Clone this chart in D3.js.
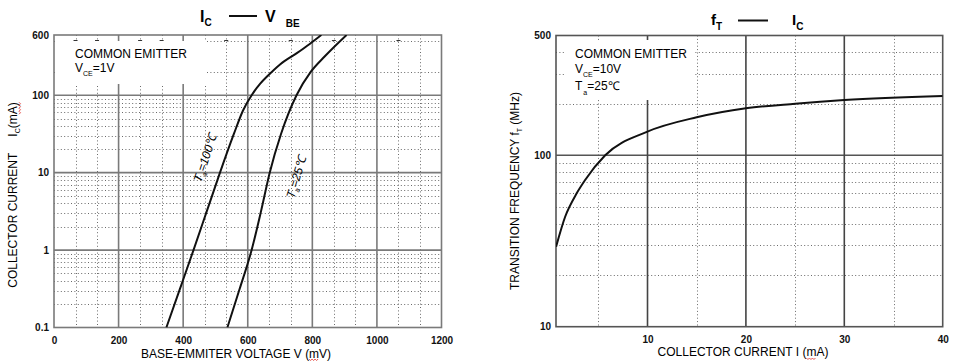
<!DOCTYPE html>
<html>
<head>
<meta charset="utf-8">
<script src="https://cdn.jsdelivr.net/npm/d3@7"></script>
<style>
  body { margin: 0; background: #fff; }
  svg { font-family: "Liberation Sans", Arial, sans-serif; }
</style>
</head>
<body>
<div id="chart"></div>
<script>
// ---- left chart: IC vs VBE ----
const vbeTicks   = [0, 200, 400, 600, 800, 1000, 1200];
const vbeMajor   = [200, 400, 600, 800, 1000];
const vbeMinor   = [66.7, 133.3, 266.7, 333.3, 466.7, 533.3, 666.7, 733.3, 866.7, 933.3, 1066.7, 1133.3];
const vbeDashes  = [66.7, 133.3, 266.7, 333.3, 533.3, 733.3, 866.7, 1066.7];
const icTicks    = [0.1, 1, 10, 100, 600];
const icTickText = ["0.1", "1", "10", "100", "600"];
const icMajor    = [1, 10, 100];
const icMinor    = [0.2, 0.3, 0.4, 0.5, 0.6, 0.7, 0.8, 0.9,
                    2, 3, 4, 5, 6, 7, 8, 9,
                    20, 30, 40, 50, 60, 70, 80, 90,
                    200, 500];
// [VBE mV, IC mA]
const curveTa100 = [[348, 0.1], [390, 0.316], [432, 1], [473, 3.16], [514, 10], [557, 31.6],
                    [585, 63.1], [612, 100], [638, 140], [663, 180], [700, 250], [752, 350],
                    [792, 460], [828, 600]];
const curveTa25  = [[537, 0.1], [575, 0.316], [612, 1], [641, 3.16], [668, 10], [703, 31.6],
                    [751, 100], [795, 200], [838, 316], [906, 600]];

// ---- right chart: fT vs IC ----
const icTicksR   = [10, 20, 30, 40];
const icMajorR   = [10, 20, 30];
const icMinorR   = [5, 15, 25, 35];
const ftTicks    = [10, 100, 500];
const ftMajor    = [100];
const ftMinor    = [20, 30, 40, 50, 60, 70, 80, 90, 200, 300, 400];
// [IC mA, fT MHz]
const curveFt    = [[0.71, 29.3], [1.63, 43.8], [2.8, 60], [3.66, 71.8], [5.7, 100], [9.93, 137],
                    [15, 166.6], [20, 188], [25, 200], [30, 210], [40, 222]];

const W = 957, H = 361;
const svg = d3.select("#chart").append("svg")
  .attr("width", W).attr("height", H);

// text with sub/superscript parts: {t, dy, size, dx}
function richText(g, x, y, parts, size, weight, anchor) {
  const t = g.append("text")
    .attr("x", x).attr("y", y)
    .attr("text-anchor", anchor || "start")
    .style("font-size", size + "px")
    .style("font-weight", weight || "normal");
  parts.forEach(p => {
    const s = t.append("tspan").text(p.t);
    if (p.dy) s.attr("dy", p.dy);
    if (p.dx) s.attr("dx", p.dx);
    if (p.size) s.style("font-size", p.size + "px");
  });
  return t;
}

// red wavy "spell check" underline below chars [from, to] of a text node
function squiggle(g, textSel, from, to, baseY) {
  const node = textSel.node();
  const a = node.getExtentOfChar(from), b = node.getExtentOfChar(to);
  const xs = a.x, xe = b.x + b.width, yb = baseY + 0.5;
  const pts = [];
  for (let xx = xs, k = 0; xx <= xe; xx += 1.5, k++) pts.push([xx, yb + (k % 2 ? 1.5 : 0)]);
  g.append("path").attr("d", d3.line()(pts))
    .attr("fill", "none").attr("stroke", "#e0302a").attr("stroke-width", 0.8);
}

function styleAxis(a) {
  a.select(".domain").remove();
  a.selectAll("text").style("font-size", "10px").style("font-weight", "bold")
    .style("font-family", "'Liberation Sans', Arial, sans-serif").attr("fill", "#111");
}

const dotColor = "#6a6a6a", dotDash = "1,2.4";

// ================= LEFT =================
{
  const x = d3.scaleLinear().domain([0, 1200]).range([54, 441.5]);
  const y = d3.scaleLog().domain([0.1, 600]).range([327.5, 35]);
  const g = svg.append("g");
  const [x0, x1] = x.range(), [y0, y1] = y.range();

  // dotted minor grid
  g.selectAll(".hm").data(icMinor).join("line")
    .attr("x1", x0).attr("x2", x1)
    .attr("y1", d => Math.round(y(d)) + 0.5).attr("y2", d => Math.round(y(d)) + 0.5)
    .attr("stroke", dotColor).attr("stroke-dasharray", dotDash);
  g.selectAll(".vm").data(vbeMinor).join("line")
    .attr("x1", d => Math.round(x(d)) + 0.5).attr("x2", d => Math.round(x(d)) + 0.5)
    .attr("y1", y1).attr("y2", y0)
    .attr("stroke", dotColor).attr("stroke-dasharray", dotDash);

  // major grid
  g.selectAll(".hM").data(icMajor).join("line")
    .attr("x1", x0).attr("x2", x1)
    .attr("y1", d => y(d)).attr("y2", d => y(d))
    .attr("stroke", "#7a7a7a").attr("stroke-width", 1.6);
  g.selectAll(".vM").data(vbeMajor).join("line")
    .attr("x1", d => x(d)).attr("x2", d => x(d))
    .attr("y1", y1).attr("y2", y0)
    .attr("stroke", "#7a7a7a").attr("stroke-width", 1.6);

  // white box behind the note
  g.append("rect").attr("x", 56).attr("y", 41).attr("width", 151).attr("height", 43).attr("fill", "#fff");
  g.selectAll(".dash").data(vbeDashes).join("line")
    .attr("x1", d => x(d) - 2).attr("x2", d => x(d) + 2)
    .attr("y1", 40.5).attr("y2", 40.5)
    .attr("stroke", "#333");

  // frame
  g.append("rect").attr("x", x0).attr("y", y1).attr("width", x1 - x0).attr("height", y0 - y1)
    .attr("fill", "none").attr("stroke", "#7a7a7a").attr("stroke-width", 1.6);

  // curves
  g.append("clipPath").attr("id", "clipL").append("rect")
    .attr("x", x0).attr("y", y1).attr("width", x1 - x0).attr("height", y0 - y1);
  const line = d3.line().x(d => x(d[0])).y(d => y(d[1])).curve(d3.curveMonotoneX);
  [curveTa100, curveTa25].forEach(c => {
    g.append("path").attr("d", line(c)).attr("clip-path", "url(#clipL)")
      .attr("fill", "none").attr("stroke", "#111").attr("stroke-width", 2);
  });

  // tick labels
  styleAxis(g.append("g").attr("transform", `translate(0,${y0})`)
    .call(d3.axisBottom(x).tickValues(vbeTicks).tickFormat(d3.format("d")).tickSize(0).tickPadding(9)));
  styleAxis(g.append("g").attr("transform", `translate(${x0},0)`)
    .call(d3.axisLeft(y).tickValues(icTicks).tickFormat((d, i) => icTickText[i]).tickSize(0).tickPadding(5)));

  // note
  g.append("text").attr("x", 75).attr("y", 58).style("font-size", "12px").text("COMMON EMITTER");
  richText(g, 75, 72, [{t: "V"}, {t: "CE", dy: 4, size: 7}, {t: "=1V", dy: -4, size: 12}], 12);

  // curve labels
  richText(g.append("g").attr("transform", "translate(201,183) rotate(-71)"), 0, 0,
    [{t: "T"}, {t: "a", dy: 3, size: 7}, {t: "=100℃", dy: -3, size: 12}], 12)
    .style("font-style", "italic");
  richText(g.append("g").attr("transform", "translate(294,199) rotate(-73)"), 0, 0,
    [{t: "T"}, {t: "a", dy: 3, size: 7}, {t: "=25℃", dy: -3, size: 12}], 12)
    .style("font-style", "italic");

  // title
  richText(g, 200, 22, [{t: "I"}, {t: "C", dy: 4, size: 10}], 16, "bold");
  g.append("line").attr("x1", 229).attr("x2", 257).attr("y1", 16).attr("y2", 16)
    .attr("stroke", "#111").attr("stroke-width", 2);
  richText(g, 265, 22, [{t: "V"}, {t: "BE", dy: 5, size: 10, dx: 10}], 16, "bold");

  // axis titles
  const xt = g.append("text").attr("x", 236).attr("y", 358).attr("text-anchor", "middle")
    .style("font-size", "12px").text("BASE-EMMITER VOLTAGE V (mV)");
  squiggle(g, xt, 24, 24, 358.5);
  const yg = g.append("g").attr("transform", "translate(17,195) rotate(-90)");
  const yt = richText(yg, 0, 0,
    [{t: "COLLECTOR CURRENT"}, {t: "I", dx: 16}, {t: "C", dy: 3, size: 7}, {t: "(mA)", dy: -3, size: 12}], 12, "normal", "middle");
  squiggle(yg, yt, 21, 22, 1.5);
}

// ================= RIGHT =================
{
  const x = d3.scaleLinear().domain([0.7, 40]).range([556, 942.7]);
  const y = d3.scaleLog().domain([10, 500]).range([326.7, 35.5]);
  const g = svg.append("g");
  const [x0, x1] = x.range(), [y0, y1] = y.range();

  g.selectAll(".hm").data(ftMinor).join("line")
    .attr("x1", x0).attr("x2", x1)
    .attr("y1", d => Math.round(y(d)) + 0.5).attr("y2", d => Math.round(y(d)) + 0.5)
    .attr("stroke", dotColor).attr("stroke-dasharray", dotDash);
  g.selectAll(".vm").data(icMinorR).join("line")
    .attr("x1", d => Math.round(x(d)) + 0.5).attr("x2", d => Math.round(x(d)) + 0.5)
    .attr("y1", y1).attr("y2", y0)
    .attr("stroke", dotColor).attr("stroke-dasharray", dotDash);

  g.selectAll(".hM").data(ftMajor).join("line")
    .attr("x1", x0).attr("x2", x1)
    .attr("y1", d => y(d)).attr("y2", d => y(d))
    .attr("stroke", "#555").attr("stroke-width", 1.6);
  g.selectAll(".vM").data(icMajorR).join("line")
    .attr("x1", d => x(d)).attr("x2", d => x(d))
    .attr("y1", y1).attr("y2", y0)
    .attr("stroke", "#444").attr("stroke-width", 1.6);

  g.append("rect").attr("x", 566).attr("y", 40).attr("width", 129).attr("height", 60).attr("fill", "#fff");

  g.append("rect").attr("x", x0).attr("y", y1).attr("width", x1 - x0).attr("height", y0 - y1)
    .attr("fill", "none").attr("stroke", "#555").attr("stroke-width", 1.6);

  g.append("clipPath").attr("id", "clipR").append("rect")
    .attr("x", x0).attr("y", y1).attr("width", x1 - x0).attr("height", y0 - y1);
  const line = d3.line().x(d => x(d[0])).y(d => y(d[1])).curve(d3.curveMonotoneX);
  g.append("path").attr("d", line(curveFt)).attr("clip-path", "url(#clipR)")
    .attr("fill", "none").attr("stroke", "#111").attr("stroke-width", 2);

  styleAxis(g.append("g").attr("transform", `translate(0,${y0})`)
    .call(d3.axisBottom(x).tickValues(icTicksR).tickFormat(d3.format("d")).tickSize(0).tickPadding(9)));
  styleAxis(g.append("g").attr("transform", `translate(${x0},0)`)
    .call(d3.axisLeft(y).tickValues(ftTicks).tickFormat(d3.format("d")).tickSize(0).tickPadding(5)));

  g.append("text").attr("x", 575).attr("y", 58).style("font-size", "12px").text("COMMON EMITTER");
  richText(g, 575, 73, [{t: "V"}, {t: "CE", dy: 4, size: 7}, {t: "=10V", dy: -4, size: 12}], 12);
  richText(g, 575, 90, [{t: "T"}, {t: "a", dy: 5, size: 7, dx: 1}, {t: "=25℃", dy: -5, size: 12}], 12);

  // title
  richText(g, 711, 25, [{t: "f"}, {t: "T", dy: 5, size: 10}], 15, "bold");
  g.append("line").attr("x1", 738).attr("x2", 768).attr("y1", 20.5).attr("y2", 20.5)
    .attr("stroke", "#111").attr("stroke-width", 2);
  richText(g, 792, 25, [{t: "I"}, {t: "C", dy: 5, size: 10}], 15, "bold");

  const xt = g.append("text").attr("x", 743).attr("y", 356).attr("text-anchor", "middle")
    .style("font-size", "12px").text("COLLECTOR CURRENT I (mA)");
  squiggle(g, xt, 21, 21, 357.5);
  richText(g.append("g").attr("transform", "translate(519,191) rotate(-90)"), 0, 0,
    [{t: "TRANSITION FREQUENCY f"}, {t: "T", dy: 3, size: 7}, {t: " (MHz)", dy: -3, size: 12}], 12, "normal", "middle");
}
</script>
</body>
</html>
